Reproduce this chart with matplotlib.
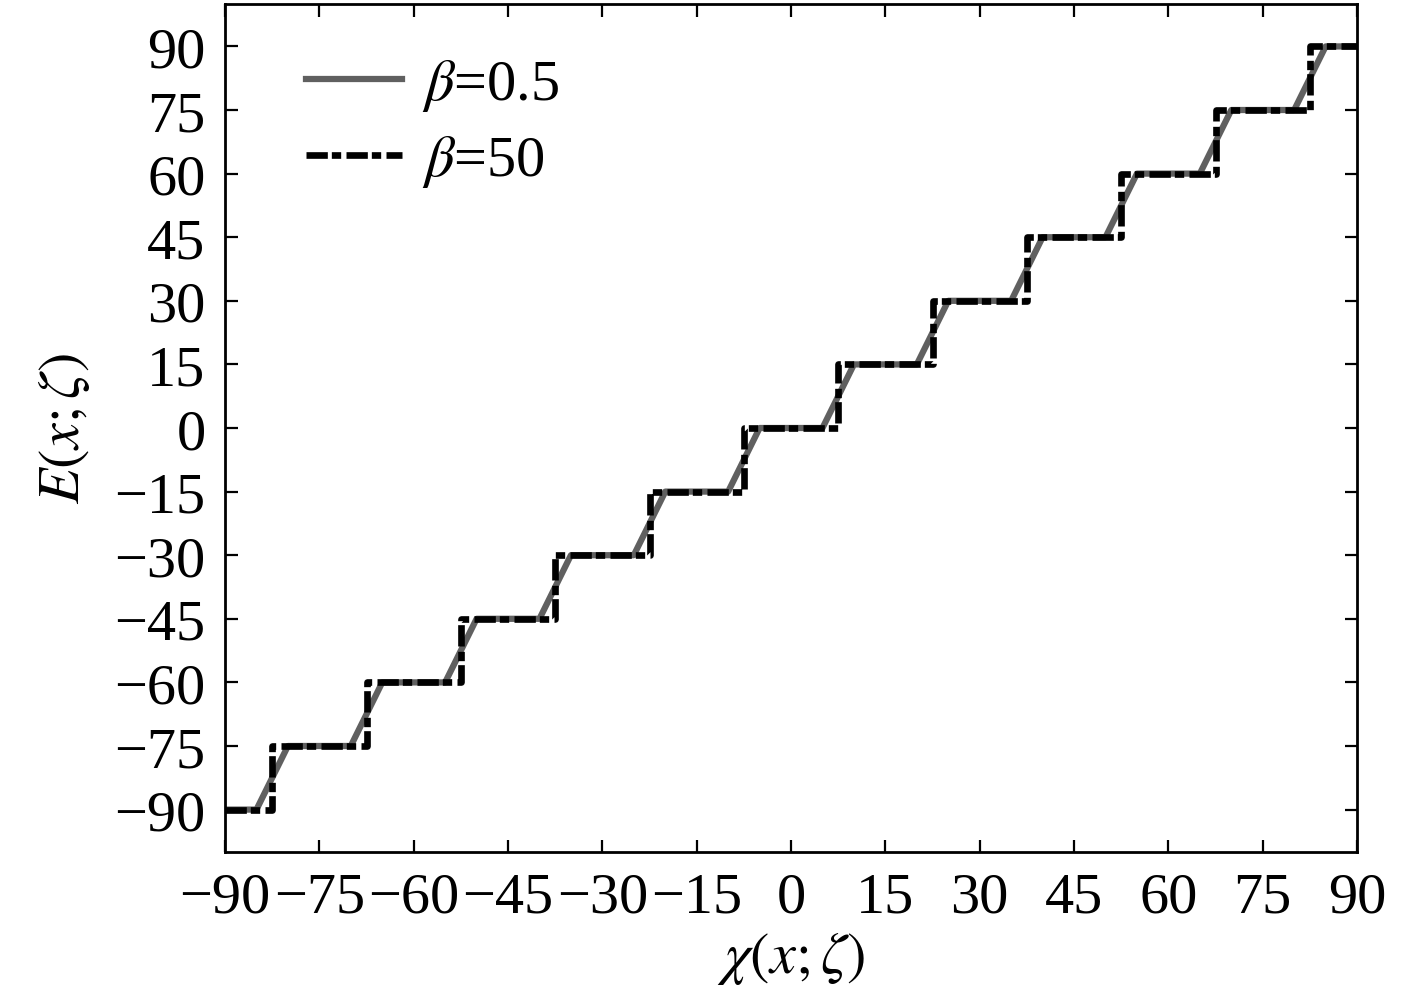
import numpy as np
from matplotlib import pyplot as plt

plt.rcParams['font.family'] = ['Liberation Serif', 'DejaVu Serif']
plt.rcParams['mathtext.fontset'] = 'stix'

# step positions (chi) and plateau levels (E)
steps = [-82.5, -67.5, -52.5, -37.5, -22.5, -7.5, 7.5, 22.5, 37.5, 52.5, 67.5, 82.5]
levels = [-90, -75, -60, -45, -30, -15, 0, 15, 30, 45, 60, 75, 90]
ramp_smooth = 2.5   # half width of the rise, beta=0.5
ramp_sharp = 0.0    # beta=50 rises straight up
ticks = [-90, -75, -60, -45, -30, -15, 0, 15, 30, 45, 60, 75, 90]

def stair(half):
    xs = [-90]
    ys = [levels[0]]
    for i, s in enumerate(steps):
        xs += [s - half, s + half]
        ys += [levels[i], levels[i + 1]]
    xs.append(90)
    ys.append(levels[-1])
    return np.array(xs), np.array(ys)

fig = plt.figure(figsize=(14.17, 10.04), dpi=100)
ax = fig.add_axes([0.1588, 0.1504, 0.7989, 0.8446])

x1, y1 = stair(ramp_smooth)
x2, y2 = stair(ramp_sharp)
ax.plot(x1, y1, color='#606060', lw=4.5, solid_joinstyle='round', label=r'$\beta$=0.5')
ax.plot(x2, y2, color='black', lw=4.8, linestyle=(0, (3.2, 0.6, 1.4, 0.8)),
        dash_capstyle='butt', label=r'$\beta$=50')

ax.set_xlim(-90, 90)
ax.set_ylim(-100, 100)
ax.set_xticks(ticks)
ax.set_yticks(ticks)
ax.tick_params(direction='in', top=True, right=True, length=9, width=1.6,
               labelsize=42)
ax.tick_params(axis='x', pad=14)
ax.tick_params(axis='y', pad=14)
for sp in ax.spines.values():
    sp.set_linewidth(2)

ax.set_xlabel(r'$\chi(x;\zeta)$', fontsize=42, labelpad=4)
ax.set_ylabel(r'$E(x;\zeta)$', fontsize=42, labelpad=16)

ax.legend(loc='upper left', frameon=False, fontsize=42, handlelength=1.65,
          handletextpad=0.35, labelspacing=0.34, borderaxespad=0.4,
          bbox_to_anchor=(0.03, 0.992))

fig.savefig('out.png', dpi=100)
